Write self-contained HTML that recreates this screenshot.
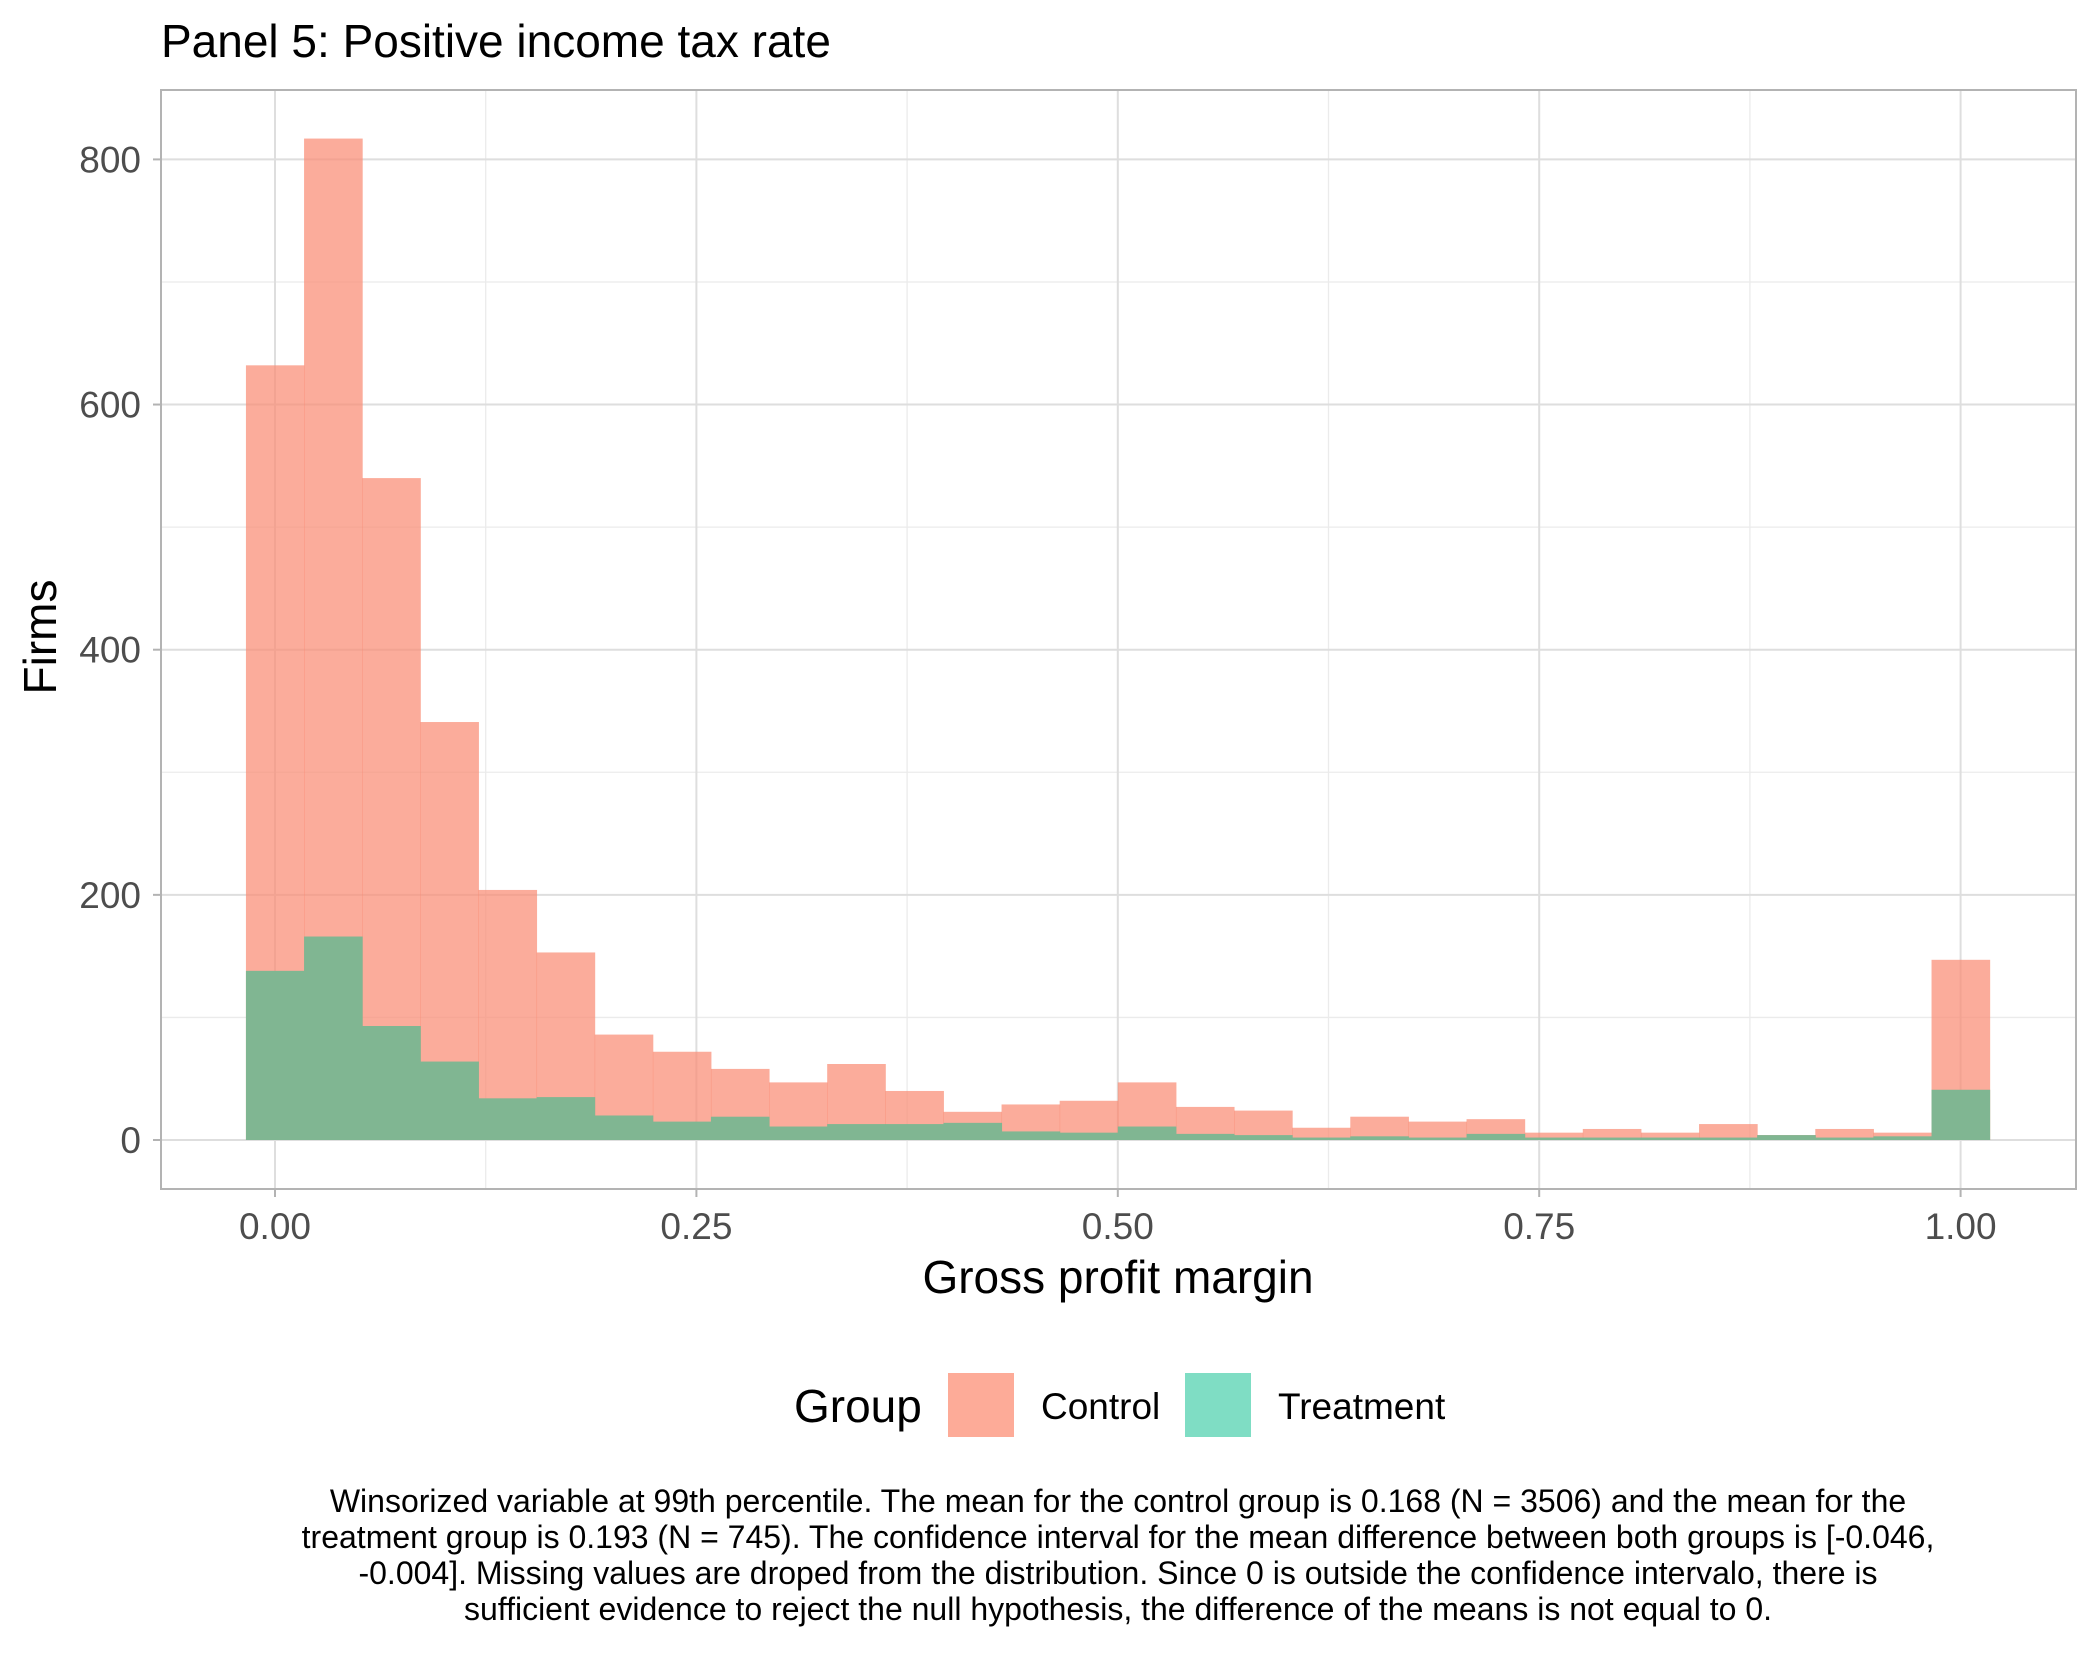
<!DOCTYPE html>
<html><head><meta charset="utf-8"><style>
html,body{margin:0;padding:0;background:#fff}
svg text{font-family:"Liberation Sans",Arial,sans-serif}
</style></head><body>
<svg id="chart" width="2100" height="1650" viewBox="0 0 2100 1650" xmlns="http://www.w3.org/2000/svg">
<rect width="2100" height="1650" fill="#fff"/>
<text x="161" y="57" font-size="46" fill="#000">Panel 5: Positive income tax rate</text>
<g id="grid"></g>
<g id="bars"></g>
<rect x="161" y="90" width="1915" height="1099" fill="none" stroke="#b3b3b3" stroke-width="2"/>
<g id="axes"></g>
<text x="1118" y="1293" font-size="46" text-anchor="middle" fill="#000">Gross profit margin</text>
<text transform="translate(56,637) rotate(-90)" font-size="46" text-anchor="middle" fill="#000">Firms</text>
<g>
<text x="794" y="1422" font-size="46" fill="#000">Group</text>
<rect x="948" y="1373" width="66" height="64" fill="#fdab98"/>
<text x="1041" y="1419" font-size="37" fill="#000">Control</text>
<rect x="1185" y="1373" width="66" height="64" fill="#7fddc4"/>
<text x="1278" y="1419" font-size="37" fill="#000">Treatment</text>
</g>
<g font-size="32" text-anchor="middle" fill="#000">
<text x="1118" y="1512">Winsorized variable at 99th percentile. The mean for the control group is 0.168 (N = 3506) and the mean for the</text>
<text x="1118" y="1548">treatment group is 0.193 (N = 745). The confidence interval for the mean difference between both groups is [-0.046,</text>
<text x="1118" y="1584">-0.004]. Missing values are droped from the distribution. Since 0 is outside the confidence intervalo, there is</text>
<text x="1118" y="1620">sufficient evidence to reject the null hypothesis, the difference of the means is not equal to 0.</text>
</g>
</svg>
<script>
const control = [632,817,540,341,204,153,86,72,58,47,62,40,23,29,32,47,27,24,10,19,15,17,6,9,6,13,4,9,6,147];
const treatment = [138,166,93,64,34,35,20,15,19,11,13,13,14,7,6,11,5,4,2,3,2,5,2,2,2,2,4,2,3,41];
const xTicks = [0,0.25,0.5,0.75,1];
const xTickLabels = ["0.00","0.25","0.50","0.75","1.00"];
const yTicks = [0,200,400,600,800];
const yTickLabels = ["0","200","400","600","800"];
const NS="http://www.w3.org/2000/svg";
const X0=275, X1=1960.6, Y0=1140, Y800=159.4;
const xs=v=>X0+(X1-X0)*v;
const ys=v=>Y0-(Y0-Y800)*v/800;
const binW=1/(control.length-1);
function mk(tag,attrs,parent){const e=document.createElementNS(NS,tag);for(const k in attrs)e.setAttribute(k,attrs[k]);parent.appendChild(e);return e;}
const grid=document.getElementById('grid'),bars=document.getElementById('bars'),axes=document.getElementById('axes');
for(let i=0;i<xTicks.length-1;i++){const v=(xTicks[i]+xTicks[i+1])/2;const l=mk('line',{x1:xs(v),x2:xs(v),y1:90,y2:1189,stroke:'#ebebeb','stroke-width':1.3},grid);}
for(let i=0;i<yTicks.length-1;i++){const v=(yTicks[i]+yTicks[i+1])/2;const l=mk('line',{x1:161,x2:2076,y1:ys(v),y2:ys(v),stroke:'#ebebeb','stroke-width':1.3},grid);}
xTicks.forEach((v,i)=>{const l=mk('line',{x1:xs(v),x2:xs(v),y1:90,y2:1189,stroke:'#dedede','stroke-width':2},grid);
const t=mk('line',{x1:xs(v),x2:xs(v),y1:1189,y2:1197,stroke:'#b3b3b3','stroke-width':2},axes);
const tx=mk('text',{x:xs(v),y:1239,'font-size':37,'text-anchor':'middle',fill:'#4d4d4d'},axes);tx.textContent=xTickLabels[i];});
yTicks.forEach((v,i)=>{const l=mk('line',{x1:161,x2:2076,y1:ys(v),y2:ys(v),stroke:'#dedede','stroke-width':2},grid);
const t=mk('line',{x1:153,x2:161,y1:ys(v),y2:ys(v),stroke:'#b3b3b3','stroke-width':2},axes);
const tx=mk('text',{x:141,y:ys(v)+13,'font-size':37,'text-anchor':'end',fill:'#4d4d4d'},axes);tx.textContent=yTickLabels[i];});
control.forEach((v,i)=>{const a=xs(i*binW-binW/2),b=xs(i*binW+binW/2);const r=mk('rect',{x:a,y:ys(v),width:b-a+0.5,height:Y0-ys(v),fill:'#fa8c74','fill-opacity':0.72},bars);});
treatment.forEach((v,i)=>{const a=xs(i*binW-binW/2),b=xs(i*binW+binW/2);const r=mk('rect',{x:a,y:ys(v),width:b-a+0.5,height:Y0-ys(v),fill:'#80b692'},bars);});
</script>
</body></html>
